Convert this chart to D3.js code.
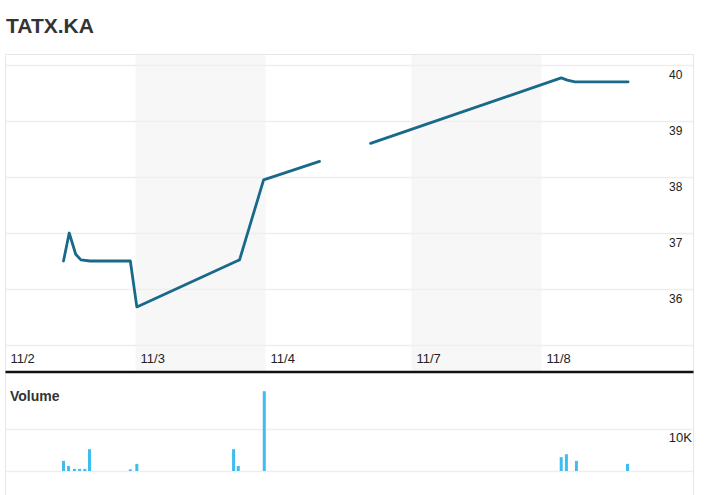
<!DOCTYPE html>
<html>
<head>
<meta charset="utf-8">
<script src="https://cdn.jsdelivr.net/npm/d3@7"></script>
<style>
  html, body { margin: 0; padding: 0; background: #fff; }
  svg { display: block; font-family: "Liberation Sans", Arial, sans-serif; }
</style>
</head>
<body>
<div id="chart"></div>
<script>
// ---- data ----
const title = "TATX.KA";
const dayLabels = ["11/2", "11/3", "11/4", "11/7", "11/8"];
const shadedDays = [1, 3];
// price points: [day index + fraction of day, price]; null marks a gap
const priceX = [0.446, 0.49, 0.54, 0.58, 0.65, 0.96, 1.01, 1.78, 1.80, 1.985, 2.37, null, 2.72, 4.13, 4.17, 4.22, 4.57];
const priceY = [36.5, 37.0, 36.62, 36.52, 36.5, 36.5, 35.68, 36.5, 36.52, 37.95, 38.28, null, 38.6, 39.77, 39.73, 39.7, 39.7];
const priceTicks = [36, 37, 38, 39, 40];
// volume bars
const volX = [0.446, 0.485, 0.53, 0.57, 0.61, 0.646, 0.96, 1.01, 1.754, 1.79, 1.99, 4.13, 4.164, 4.23, 4.566];
const volY = [2400, 1200, 500, 500, 500, 5200, 400, 1700, 5200, 1200, 19000, 3300, 4000, 2400, 1700];
const volTicks = [10000];
const volTickLabels = ["10K"];

// ---- layout ----
const W = 712, H = 495;
const frame = { left: 5.5, right: 693.5, top: 54.5 };
const price = { top: 65, bottom: 345 };
const sepY = 372;
const vol = { top: 429, bottom: 471 };

const svg = d3.select("#chart").append("svg").attr("width", W).attr("height", H);

// x scale: trading-day index -> pixel (days are not all equally wide in the source)
const plotW = frame.right - frame.left;
const dayFrac = [0, 0.189, 0.378, 0.590, 0.779, 1];
const x = d3.scaleLinear()
  .domain(d3.range(dayFrac.length))
  .range(dayFrac.map(f => frame.left + f * plotW));

const y = d3.scaleLinear().domain([35, 40]).range([price.bottom, price.top]);
const yv = d3.scaleLinear().domain([0, 10000]).range([vol.bottom, vol.top]);

// title
svg.append("text").attr("x", 6).attr("y", 33)
  .attr("font-size", 21).attr("font-weight", "bold").attr("fill", "#333")
  .text(title);

// shaded day bands
svg.append("g").selectAll("rect").data(shadedDays).join("rect")
  .attr("x", d => x(d)).attr("width", d => x(d + 1) - x(d))
  .attr("y", frame.top).attr("height", sepY - frame.top)
  .attr("fill", "#f7f7f7");

// price gridlines
svg.append("g").selectAll("line").data([35, ...priceTicks]).join("line")
  .attr("x1", frame.left).attr("x2", frame.right)
  .attr("y1", d => Math.round(y(d)) + 0.5).attr("y2", d => Math.round(y(d)) + 0.5)
  .attr("stroke", "#eeeeee").attr("stroke-width", 1.5);

// price tick labels (right side, below gridline)
svg.append("g").selectAll("text").data(priceTicks).join("text")
  .attr("x", 669).attr("y", d => y(d) + 14)
  .attr("font-size", 12).attr("fill", "#222")
  .text(d => d);

// x labels
svg.append("g").selectAll("text").data(dayLabels).join("text")
  .attr("x", (d, i) => x(i) + 5).attr("y", 363)
  .attr("font-size", 13).attr("fill", "#222")
  .text(d => d);

// frame
svg.append("path")
  .attr("d", `M${frame.left},${H} V${frame.top} H${frame.right} V${H}`)
  .attr("fill", "none").attr("stroke", "#e6e6e6").attr("stroke-width", 1);

// price line
const line = d3.line()
  .defined((d, i) => priceX[i] !== null)
  .x((d, i) => x(priceX[i]))
  .y((d, i) => y(priceY[i]));
svg.append("path").datum(priceX)
  .attr("d", line)
  .attr("fill", "none").attr("stroke", "#19698a").attr("stroke-width", 2.8)
  .attr("stroke-linejoin", "round").attr("stroke-linecap", "round");

// separator
svg.append("line").attr("x1", frame.left).attr("x2", frame.right)
  .attr("y1", sepY).attr("y2", sepY)
  .attr("stroke", "#111").attr("stroke-width", 2.5);

// volume label
svg.append("text").attr("x", 10).attr("y", 401)
  .attr("font-size", 14).attr("font-weight", "bold").attr("fill", "#333")
  .text("Volume");

// volume gridlines
svg.append("g").selectAll("line").data([0, ...volTicks]).join("line")
  .attr("x1", frame.left).attr("x2", frame.right)
  .attr("y1", d => Math.round(yv(d)) + 0.5).attr("y2", d => Math.round(yv(d)) + 0.5)
  .attr("stroke", "#eeeeee").attr("stroke-width", 1.5);

svg.append("g").selectAll("text").data(volTicks).join("text")
  .attr("x", 692).attr("y", d => yv(d) + 13).attr("text-anchor", "end")
  .attr("font-size", 13).attr("fill", "#222")
  .text((d, i) => volTickLabels[i]);

// volume bars
svg.append("g").selectAll("rect").data(volY).join("rect")
  .attr("x", (d, i) => x(volX[i]) - 1.5).attr("width", 3)
  .attr("y", d => yv(d)).attr("height", d => yv(0) - yv(d))
  .attr("fill", "#3fbdee");
</script>
</body>
</html>
